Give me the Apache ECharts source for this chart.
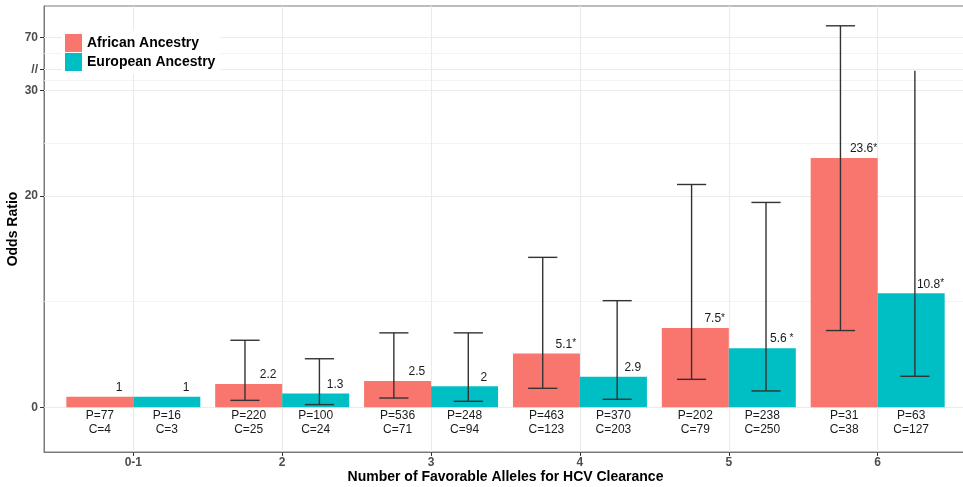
<!DOCTYPE html>
<html><head><meta charset="utf-8">
<script src="https://cdn.jsdelivr.net/npm/echarts@6/dist/echarts.min.js"></script>
<style>html,body{margin:0;padding:0;background:#fff}#c{width:963px;height:487px}</style>
</head><body><div id="c"></div>
<script>
const categories = ['0-1', '2', '3', '4', '5', '6'];
const afrOR   = [1, 2.2, 2.5, 5.1, 7.5, 23.6];
const afrLow  = [null, 0.66, 0.88, 1.8, 2.65, 7.27];
const afrHigh = [null, 6.35, 7.05, 14.2, 21.1, 79];
const afrSig  = [0, 0, 0, 1, 1, 1];
const afrP    = [77, 220, 536, 463, 202, 31];
const afrC    = [4, 25, 71, 123, 79, 38];
const eurOR   = [1, 1.3, 2, 2.9, 5.6, 10.8];
const eurLow  = [null, 0.26, 0.57, 0.76, 1.55, 2.94];
const eurHigh = [null, 4.6, 7.05, 10.1, 19.4, 45];
const eurSig  = [0, 0, 0, 0, 1, 1];
const eurP    = [16, 100, 248, 370, 238, 63];
const eurC    = [3, 24, 94, 203, 250, 127];
const eurUpperCap = [1, 1, 1, 1, 1, 0];
const afrUpperCap = [1, 1, 1, 1, 1, 1];
const yTickValues = [0, 20, 30, 32, 35];
const yTickLabels = ['0', '20', '30', '//', '70'];
const yMinorValues = [10, 25, 31, 33.5];

// axis break: values above 30 compressed (30 -> 30, 70 -> 35)
function toAxis(v) { return v <= 30 ? v : 30 + (v - 30) * (5 / 40); }

const FONT = "'Liberation Sans', Arial, Helvetica, sans-serif";
const AFR = '#F8766D', EUR = '#00BFC4';

function buildData(or, lo, hi, p, c, sig, cap) {
  return categories.map((_, i) => [i, or[i], lo[i] == null ? NaN : lo[i], hi[i] == null ? NaN : hi[i], p[i], c[i], sig[i], cap[i]]);
}

function makeRender(side, color) {
  return function (params, api) {
    const i = api.value(0), or = api.value(1), lo = api.value(2), hi = api.value(3);
    const p = api.value(4), c = api.value(5), sig = api.value(6), cap = api.value(7);
    const xc = i + side * 0.225;
    const ex = i + side * 0.25;
    const top = api.coord([xc - 0.225, toAxis(or)]);
    const bot = api.coord([xc + 0.225, 0]);
    const children = [{
      type: 'rect',
      shape: { x: top[0], y: top[1], width: bot[0] - top[0], height: bot[1] - top[1] },
      style: { fill: color }
    }];
    if (!isNaN(lo) && !isNaN(hi)) {
      const a = api.coord([ex, toAxis(lo)]);
      const b = api.coord([ex, toAxis(hi)]);
      const cl = api.coord([ex - 0.098, 0])[0], cr = api.coord([ex + 0.098, 0])[0];
      const ls = { stroke: '#333', lineWidth: 1.4 };
      children.push({ type: 'line', shape: { x1: a[0], y1: a[1], x2: b[0], y2: b[1] }, style: ls });
      children.push({ type: 'line', shape: { x1: cl, y1: a[1], x2: cr, y2: a[1] }, style: ls });
      if (cap) children.push({ type: 'line', shape: { x1: cl, y1: b[1], x2: cr, y2: b[1] }, style: ls });
    }
    const lp = api.coord([xc + 0.13, toAxis(or)]);
    children.push({
      type: 'text', x: lp[0], y: lp[1] - 3,
      style: {
        text: sig ? '{v|' + or + '}{s|' + (side > 0 && i === 4 ? ' *' : '*') + '}' : '{v|' + or + '}',
        align: 'center', verticalAlign: 'bottom',
        rich: {
          v: { fontSize: 12, fontFamily: FONT, fill: '#1a1a1a' },
          s: { fontSize: 10, fontFamily: FONT, fill: '#1a1a1a', verticalAlign: 'top' }
        }
      }
    });
    const pc = api.coord([xc, 0]);
    children.push({
      type: 'text', x: pc[0], y: pc[1] + 2,
      style: {
        text: 'P=' + p + '\nC=' + c, align: 'center', verticalAlign: 'top',
        fontSize: 12, fontFamily: FONT, fill: '#1a1a1a', lineHeight: 13.5
      }
    });
    return { type: 'group', children };
  };
}

const gridLines = [];
yTickValues.forEach(v => gridLines.push({ yAxis: v, lineStyle: { color: '#EBEBEB', width: 1.1, type: 'solid' } }));
yMinorValues.forEach(v => gridLines.push({ yAxis: v, lineStyle: { color: '#F0F0F0', width: 0.8, type: 'solid' } }));
categories.forEach((_, i) => gridLines.push({ xAxis: i, lineStyle: { color: '#EBEBEB', width: 1.1, type: 'solid' } }));

const chart = echarts.init(document.getElementById('c'), null, { renderer: 'canvas' });
chart.setOption({
  animation: false,
  backgroundColor: '#fff',
  grid: { left: 44, right: -4, top: 6, bottom: 35, show: true, borderColor: '#7a7a7a', borderWidth: 1,
    backgroundColor: '#fff', containLabel: false, outerBoundsMode: 'none' },
  legend: {
    data: [{ name: 'African Ancestry', icon: 'rect' }, { name: 'European Ancestry', icon: 'rect' }],
    orient: 'vertical', left: 62, top: 31, itemWidth: 17, itemHeight: 18, itemGap: 1, z: 10,
    backgroundColor: '#fff', padding: [3, 5, 3, 3], selectedMode: false,
    textStyle: { fontSize: 14, fontWeight: 'bold', color: '#000', fontFamily: FONT }
  },
  xAxis: {
    type: 'value', min: -0.6, max: 5.6,
    name: 'Number of Favorable Alleles for HCV Clearance', nameLocation: 'middle', nameGap: 18, nameMoveOverlap: false,
    nameTextStyle: { fontSize: 14, fontWeight: 'bold', color: '#000', fontFamily: FONT },
    axisLine: { show: true, onZero: false, lineStyle: { color: '#7a7a7a', width: 1 } },
    splitLine: { show: false },
    axisTick: { show: true, customValues: [0, 1, 2, 3, 4, 5], length: 4, lineStyle: { color: '#333', width: 1 } },
    axisLabel: { customValues: [0, 1, 2, 3, 4, 5], formatter: v => categories[Math.round(v)], margin: 5,
      fontSize: 12, fontWeight: 'bold', color: '#4d4d4d', fontFamily: FONT }
  },
  yAxis: {
    type: 'value', min: -4.23, max: 38,
    name: 'Odds Ratio', nameLocation: 'middle', nameGap: 24, nameRotate: 90, nameMoveOverlap: false,
    nameTextStyle: { fontSize: 14, fontWeight: 'bold', color: '#000', fontFamily: FONT },
    axisLine: { show: true, onZero: false, lineStyle: { color: '#7a7a7a', width: 1 } },
    splitLine: { show: false },
    axisTick: { show: true, customValues: yTickValues, length: 4, lineStyle: { color: '#333', width: 1 } },
    axisLabel: { customValues: yTickValues, formatter: v => yTickLabels[yTickValues.indexOf(v)], margin: 6,
      fontSize: 12, fontWeight: 'bold', color: '#4d4d4d', fontFamily: FONT }
  },
  series: [
    { type: 'line', name: 'grid', data: [], z: 1, silent: true,
      markLine: { z: 1, silent: true, symbol: ['none', 'none'], label: { show: false }, animation: false, data: gridLines } },
    { type: 'custom', name: 'African Ancestry', z: 3, itemStyle: { color: AFR },
      data: buildData(afrOR, afrLow, afrHigh, afrP, afrC, afrSig, afrUpperCap), renderItem: makeRender(-1, AFR) },
    { type: 'custom', name: 'European Ancestry', z: 3, itemStyle: { color: EUR },
      data: buildData(eurOR, eurLow, eurHigh, eurP, eurC, eurSig, eurUpperCap), renderItem: makeRender(1, EUR) }
  ]
});
</script></body></html>
